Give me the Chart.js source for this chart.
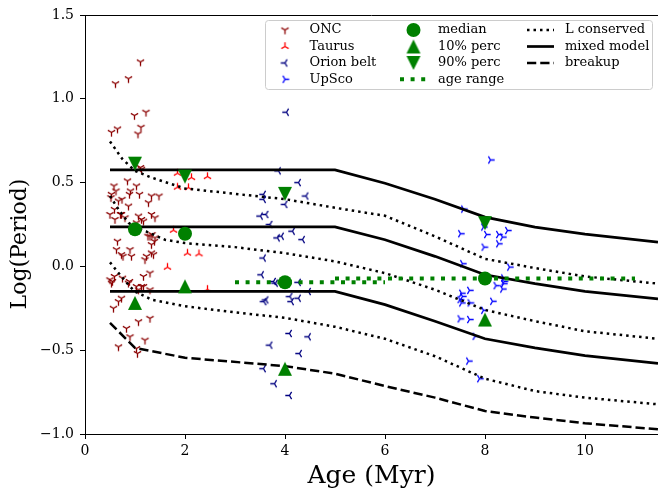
<!DOCTYPE html>
<html lang="en">
<head>
<meta charset="UTF-8">
<title>Rotation period vs age</title>
<script src="https://cdn.jsdelivr.net/npm/chart.js@4.4.1/dist/chart.umd.min.js"></script>
<style>
  html, body { margin: 0; padding: 0; background: #fff; }
  #wrap { width: 658px; height: 491px; }
</style>
</head>
<body>
<div id="wrap"><canvas id="periodChart" width="658" height="491"></canvas></div>
<script>
// cluster members: [age (Myr), log period]
const oncPoints = [
  [1.11,1.22],[0.87,1.12],[0.61,1.09],[0.99,0.90],[1.22,0.92],[1.12,0.83],[0.53,0.80],[0.65,0.82],[1.06,0.79],
  [1.11,0.59],[1.13,0.58],[0.85,0.51],[1.03,0.48],[0.58,0.48],[0.53,0.43],[0.62,0.45],[0.91,0.45],[1.09,0.43],
  [0.74,0.40],[0.89,0.43],[1.33,0.42],[1.48,0.42],[1.27,0.38],[0.52,0.41],[0.67,0.39],[0.87,0.36],[0.59,0.34],
  [0.50,0.31],[0.73,0.31],[0.60,0.28],[1.07,0.30],[1.33,0.31],[1.40,0.29],[1.17,0.27],[0.80,0.29],[1.03,0.26],
  [0.93,0.22],[1.13,0.28],[0.71,0.31],[1.30,0.18],[1.40,0.17],[1.26,0.18],[1.34,0.19],[0.65,0.15],[1.39,0.15],
  [1.33,0.13],[0.63,0.10],[0.73,0.07],[0.90,0.10],[0.93,0.06],[1.23,0.06],[1.37,0.07],[1.20,0.04],[0.76,0.06],
  [1.33,0.08],[0.50,-0.08],[0.59,-0.06],[0.53,-0.10],[0.55,-0.09],[0.75,-0.07],[1.17,-0.06],[1.30,-0.04],
  [0.87,-0.10],[0.89,-0.09],[1.03,-0.12],[1.07,-0.14],[1.17,-0.12],[1.30,-0.14],[1.13,-0.12],[0.73,-0.19],
  [0.67,-0.21],[0.57,-0.25],[1.30,-0.31],[1.07,-0.33],[0.83,-0.37],[0.90,-0.42],[1.20,-0.44],[0.67,-0.48],
  [1.03,-0.49],[1.05,-0.52]
];
const taurusPoints = [
  [1.85,0.556],[2.13,0.53],[2.45,0.536],[1.85,0.473],[2.07,0.47],
  [1.77,0.216],[2.05,0.079],[2.28,0.075],[1.65,-0.005],[2.45,-0.137]
];
const orionBeltPoints = [
  [4.03,0.92],[3.87,0.57],[4.27,0.50],[4.42,0.42],[3.57,0.43],[3.57,0.40],[4.00,0.37],[3.62,0.31],
  [3.51,0.30],[3.70,0.25],[3.93,0.18],[3.85,0.17],[4.15,0.21],[4.35,0.16],[3.57,0.05],[3.53,-0.05],
  [3.77,-0.09],[3.81,-0.10],[4.27,-0.095],[4.47,-0.15],[3.62,-0.20],[3.58,-0.21],[4.10,-0.18],[4.13,-0.21],
  [4.27,-0.19],[4.09,-0.40],[4.47,-0.42],[3.70,-0.47],[4.29,-0.52],[3.57,-0.61],[3.79,-0.70],[4.09,-0.77]
];
const upScoPoints = [
  [8.11,0.635],[7.57,0.342],[7.97,0.235],[7.51,0.195],[8.03,0.19],[8.27,0.19],[8.45,0.214],[8.35,0.175],
  [8.27,0.135],[7.98,0.115],[7.55,0.016],[8.49,-0.004],[8.37,-0.069],[8.38,-0.09],[8.37,-0.103],[8.22,-0.115],
  [8.35,-0.135],[7.69,-0.143],[7.55,-0.179],[7.50,-0.198],[7.53,-0.16],[7.70,-0.218],[8.15,-0.208],[7.53,-0.218],
  [7.97,-0.262],[7.50,-0.313],[7.69,-0.317],[7.80,-0.417],[7.67,-0.565],[7.89,-0.67]
];

// per-cluster statistics (ONC, Taurus, Orion belt, UpSco)
const clusterAges = [1, 2, 4, 8];
const medianLogP = [0.222, 0.195, -0.095, -0.072];
const perc10LogP = [-0.218, -0.119, -0.611, -0.317];
const perc90LogP = [0.613, 0.536, 0.433, 0.258];
const orionAgeRange = [3, 6];
const upScoAgeRange = [5, 11];

// spin evolution models: [age (Myr), log period]
const lConservedTracks = [
  [[0.5,0.745],[0.75,0.64],[1,0.57],[1.33,0.53],[2,0.465],[3,0.433],[4,0.401],[5,0.35],[6,0.302],[7,0.179],[8,0.045],[9,-0.01],[10,-0.06],[11.46,-0.103]],
  [[0.5,0.42],[0.67,0.34],[0.87,0.26],[1,0.235],[1.23,0.208],[1.6,0.159],[2,0.139],[3,0.115],[4,0.079],[5,0.03],[6,-0.04],[7,-0.139],[8,-0.26],[9,-0.327],[10,-0.387],[11.46,-0.432]],
  [[0.5,0.024],[0.7,-0.05],[0.9,-0.12],[1,-0.15],[1.33,-0.198],[2,-0.238],[3,-0.274],[4,-0.307],[5,-0.36],[6,-0.432],[7,-0.536],[8,-0.67],[9,-0.744],[10,-0.783],[11.46,-0.823]]
];
const mixedModelTracks = [
  [[0.5,0.576],[5,0.576],[6,0.496],[7,0.401],[8,0.294],[9,0.234],[10,0.193],[11.46,0.145]],
  [[0.5,0.236],[5,0.236],[6,0.159],[7,0.06],[8,-0.05],[9,-0.103],[10,-0.149],[11.46,-0.194]],
  [[0.5,-0.149],[5,-0.149],[6,-0.228],[7,-0.327],[8,-0.432],[9,-0.486],[10,-0.532],[11.46,-0.579]]
];
const breakupTrack = [[0.5,-0.337],[1,-0.486],[2,-0.545],[4,-0.595],[5,-0.64],[6,-0.714],[7,-0.783],[8,-0.863],[9,-0.902],[10,-0.936],[11.46,-0.972]];

const xTicks = [0, 2, 4, 6, 8, 10];
const yTicks = [-1.0, -0.5, 0.0, 0.5, 1.0, 1.5];

const FONT = 'DejaVu Serif';
const GREEN = '#008000';

function toXY(pairs) {
  return pairs.map(p => ({x: p[0], y: p[1]}));
}

// small marker images, matplotlib style tri markers and triangles
function triMarker(color, angles) {
  const c = document.createElement('canvas');
  c.width = 11; c.height = 11;
  const g = c.getContext('2d');
  g.translate(5.5, 5.5);
  g.strokeStyle = color;
  g.lineWidth = 1.3;
  g.beginPath();
  angles.forEach(a => {
    const r = a * Math.PI / 180;
    g.moveTo(0, 0);
    g.lineTo(4.2 * Math.cos(r), -4.2 * Math.sin(r));
  });
  g.stroke();
  return c;
}
function triangleMarker(color, down) {
  const c = document.createElement('canvas');
  c.width = 16; c.height = 16;
  const g = c.getContext('2d');
  g.fillStyle = color;
  g.beginPath();
  if (down) {
    g.moveTo(8, 15); g.lineTo(1, 1); g.lineTo(15, 1);
  } else {
    g.moveTo(8, 1); g.lineTo(1, 15); g.lineTo(15, 15);
  }
  g.closePath();
  g.fill();
  return c;
}

const triDown = triMarker('#8b0000', [-90, 30, 150]);
const triUp = triMarker('#ff0000', [90, -30, -150]);
const triLeft = triMarker('#000080', [180, 60, -60]);
const triRight = triMarker('#0000ff', [0, 120, -120]);

function scatterSet(label, pts, style) {
  return {label: label, data: toXY(pts), pointStyle: style, pointRadius: 4,
          showLine: false, order: 3};
}
function lineSet(label, pts, color, width, dash, order) {
  return {label: label, data: toXY(pts), showLine: true, pointRadius: 0,
          borderColor: color, borderWidth: width, borderDash: dash,
          borderCapStyle: 'butt', tension: 0, fill: false, order: order};
}
function statSet(label, values, style, radius) {
  return {label: label, data: clusterAges.map((a, i) => ({x: a, y: values[i]})),
          pointStyle: style, pointRadius: radius, backgroundColor: GREEN,
          borderWidth: 0, showLine: false, order: 1};
}

const datasets = [
  scatterSet('ONC', oncPoints, triDown),
  scatterSet('Taurus', taurusPoints, triUp),
  scatterSet('Orion belt', orionBeltPoints, triLeft),
  scatterSet('UpSco', upScoPoints, triRight),
  statSet('median', medianLogP, 'circle', 7),
  statSet('10% perc', perc10LogP, triangleMarker(GREEN, false), 8),
  statSet('90% perc', perc90LogP, triangleMarker(GREEN, true), 8),
  lineSet('age range', orionAgeRange.map(a => [a, medianLogP[2]]), GREEN, 4, [4, 6.6], 2),
  lineSet('', upScoAgeRange.map(a => [a, medianLogP[3]]), GREEN, 4, [4, 6.6], 2),
  lineSet('L conserved', lConservedTracks[0], '#000', 2.5, [2.5, 4], 2),
  lineSet('', lConservedTracks[1], '#000', 2.5, [2.5, 4], 2),
  lineSet('', lConservedTracks[2], '#000', 2.5, [2.5, 4], 2),
  lineSet('mixed model', mixedModelTracks[0], '#000', 2.7, [], 2),
  lineSet('', mixedModelTracks[1], '#000', 2.7, [], 2),
  lineSet('', mixedModelTracks[2], '#000', 2.7, [], 2),
  lineSet('breakup', breakupTrack, '#000', 2.5, [9.25, 4], 2)
];

// top spine, rotated y label and the three-column legend box
const framePlugin = {
  id: 'frame',
  afterDraw(chart) {
    const ctx = chart.ctx;
    const area = chart.chartArea;
    ctx.save();
    ctx.strokeStyle = '#000';
    ctx.lineWidth = 1;
    ctx.beginPath();
    ctx.moveTo(area.left, area.top + 0.5);
    ctx.lineTo(area.right, area.top + 0.5);
    ctx.stroke();

    ctx.fillStyle = '#000';
    ctx.font = '22px "' + FONT + '"';
    ctx.textAlign = 'center';
    ctx.textBaseline = 'middle';
    ctx.translate(20, 244);
    ctx.rotate(-Math.PI / 2);
    ctx.fillText('Log(Period)', 0, 0);
    ctx.restore();

    const entries = chart.data.datasets.filter(ds => ds.label);
    const box = {x: 265.5, y: 20.5, w: 387, h: 69};
    ctx.save();
    ctx.fillStyle = 'rgba(255,255,255,0.8)';
    ctx.strokeStyle = '#cccccc';
    ctx.lineWidth = 1;
    ctx.beginPath();
    ctx.roundRect(box.x, box.y, box.w, box.h, 3);
    ctx.fill();
    ctx.stroke();

    const colCenter = [285, 413.5, 540.5];
    const rowY = [30, 46.5, 63, 79.3];
    ctx.font = '13px "' + FONT + '"';
    ctx.textBaseline = 'middle';
    ctx.textAlign = 'left';
    entries.forEach((ds, i) => {
      const cx = colCenter[Math.floor(i / 4)];
      const cy = rowY[i % 4];
      if (ds.showLine) {
        ctx.save();
        ctx.strokeStyle = ds.borderColor;
        ctx.lineWidth = ds.borderWidth;
        ctx.lineCap = 'butt';
        ctx.setLineDash(ds.borderDash);
        ctx.beginPath();
        ctx.moveTo(cx - 13.5, cy);
        ctx.lineTo(cx + 13.5, cy);
        ctx.stroke();
        ctx.restore();
      } else if (ds.pointStyle === 'circle') {
        ctx.fillStyle = ds.backgroundColor;
        ctx.beginPath();
        ctx.arc(cx, cy, ds.pointRadius, 0, Math.PI * 2);
        ctx.fill();
      } else {
        const img = ds.pointStyle;
        ctx.drawImage(img, cx - img.width / 2, cy - img.height / 2);
      }
      ctx.fillStyle = '#000';
      ctx.fillText(ds.label, cx + 24.5, cy);
    });
    ctx.restore();
  }
};

Chart.defaults.font.family = FONT;
Chart.defaults.color = '#000';

new Chart(document.getElementById('periodChart'), {
  type: 'scatter',
  data: {datasets: datasets},
  options: {
    responsive: false,
    animation: false,
    devicePixelRatio: 1,
    layout: {autoPadding: false, padding: {top: 15, right: 0, left: 0, bottom: 0}},
    plugins: {
      legend: {display: false},
      tooltip: {enabled: false}
    },
    scales: {
      x: {
        type: 'linear',
        min: 0,
        max: 11.46,
        afterFit: s => { s.height = 57; s.paddingLeft = 0; s.paddingRight = 0; },
        afterBuildTicks: s => { s.ticks = xTicks.map(v => ({value: v})); },
        grid: {drawOnChartArea: false, drawTicks: true, tickLength: 5, tickColor: '#000', color: '#000'},
        border: {display: true, color: '#000', width: 1},
        ticks: {color: '#000', font: {family: FONT, size: 14}, padding: 4, maxRotation: 0},
        title: {display: true, text: 'Age (Myr)', color: '#000',
                font: {family: FONT, size: 25}, padding: {top: 0, bottom: 0}}
      },
      y: {
        type: 'linear',
        min: -1,
        max: 1.5,
        afterFit: s => { s.width = 85; s.paddingTop = 0; s.paddingBottom = 0; },
        afterBuildTicks: s => { s.ticks = yTicks.map(v => ({value: v})); },
        grid: {drawOnChartArea: false, drawTicks: true, tickLength: 5, tickColor: '#000', color: '#000'},
        border: {display: true, color: '#000', width: 1},
        ticks: {
          color: '#000', font: {family: FONT, size: 14}, padding: 6,
          callback: v => (v < 0 ? '\u2212' : '') + Math.abs(v).toFixed(1)
        }
      }
    }
  },
  plugins: [framePlugin]
});
</script>
</body>
</html>
